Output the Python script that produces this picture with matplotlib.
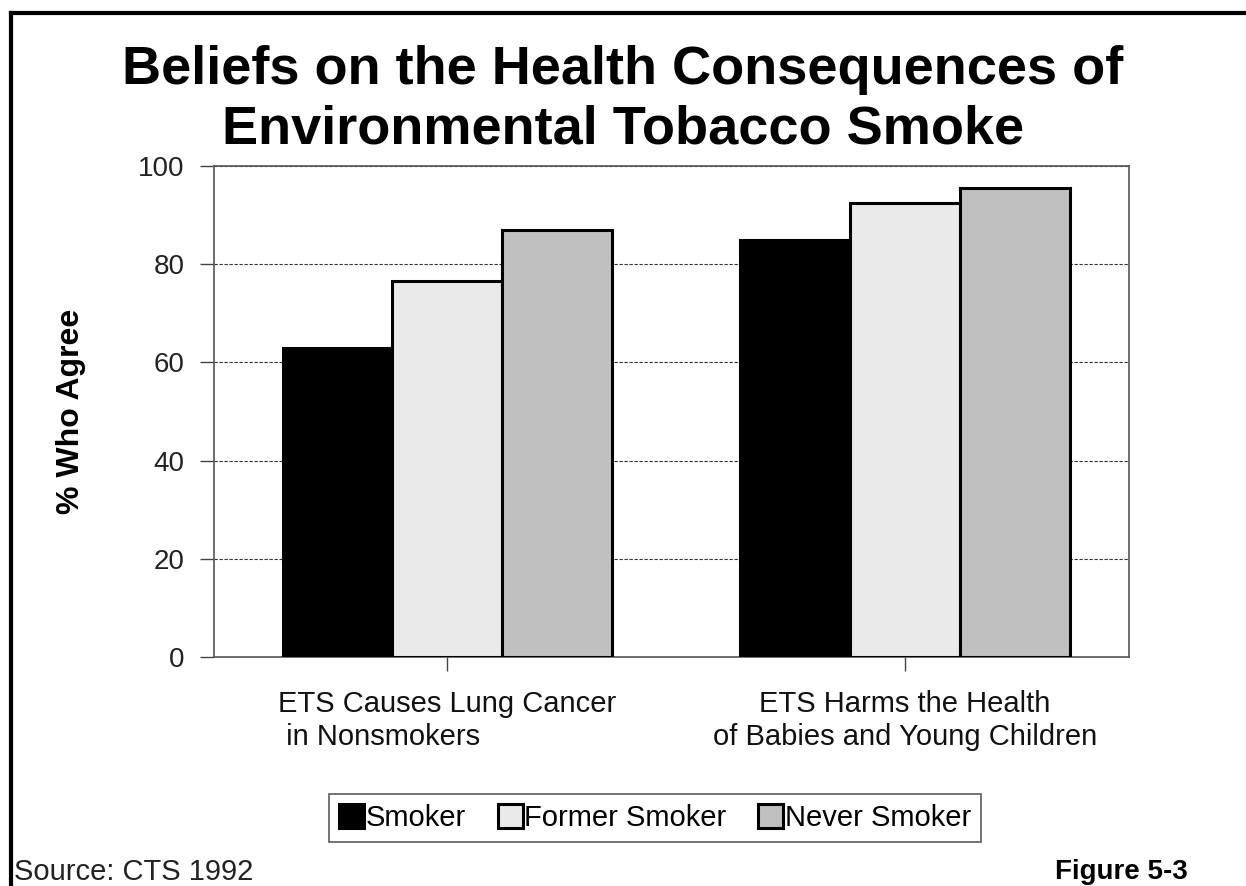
import matplotlib
matplotlib.use("Agg")
import matplotlib.pyplot as plt
from matplotlib.lines import Line2D
from matplotlib.transforms import ScaledTranslation
import numpy as np

plt.rcParams['font.family'] = ['Liberation Sans', 'DejaVu Sans']

# Survey results (% who agree)
categories = ["ETS Causes Lung Cancer\n in Nonsmokers",
              "ETS Harms the Health\nof Babies and Young Children"]
series_names = ["Smoker", "Former Smoker", "Never Smoker"]
smoker = [63, 85]
former_smoker = [76.5, 92.5]
never_smoker = [87, 95.5]
series_values = [smoker, former_smoker, never_smoker]
series_colors = ["#000000", "#eaeaea", "#c0c0c0"]
y_ticks = [0, 20, 40, 60, 80, 100]

W, H = 1246, 886
fig = plt.figure(figsize=(W / 100, H / 100), dpi=100)
ax = fig.add_axes([214 / W, 1 - 657 / H, (1129 - 214) / W, (657 - 166) / H])

x = np.arange(len(categories))
bar_w = 0.24
offsets = [-bar_w, 0, bar_w]
handles = []
for name, vals, col, off in zip(series_names, series_values, series_colors, offsets):
    b = ax.bar(x + off, vals, width=bar_w, color=col, edgecolor="black",
               linewidth=2.2, label=name, zorder=3)
    handles.append(b)

ax.set_xlim(-0.51, 1.49)
ax.set_ylim(0, 100)
ax.set_yticks(y_ticks)
ax.set_yticklabels([str(t) for t in y_ticks], fontsize=20, color="#222222")
ax.set_xticks(x)
ax.set_xticklabels(categories, fontsize=21, color="#111111")
for lbl, ma in zip(ax.get_xticklabels(), ["left", "center"]):
    lbl.set_multialignment(ma)
ax.get_xticklabels()[1].set_transform(
    ax.get_xticklabels()[1].get_transform() + ScaledTranslation(15 / 100, 0, fig.dpi_scale_trans))

ax.tick_params(axis="y", direction="out", length=10, width=1, color="#444444", pad=11)
ax.tick_params(axis="x", direction="out", length=10, width=1, color="#444444", pad=14)

ax.yaxis.grid(True, linestyle=(0, (3, 1.5)), color="#333333", linewidth=0.8, zorder=0)
ax.set_axisbelow(True)
for side in ["left", "right", "top", "bottom"]:
    ax.spines[side].set_color("#555555")
    ax.spines[side].set_linewidth(1.2)

ax.set_ylabel("% Who Agree", fontsize=23, fontweight="bold", labelpad=38)

fig.text(0.5, 1 - 70 / H, "Beliefs on the Health Consequences of",
         fontsize=39, fontweight="bold", ha="center", va="center")
fig.text(0.5, 1 - 130 / H, "Environmental Tobacco Smoke",
         fontsize=39, fontweight="bold", ha="center", va="center")

leg = fig.legend(handles=handles, loc="center", bbox_to_anchor=(655 / W, 1 - 818 / H),
                 ncol=3, fontsize=21, frameon=True, fancybox=False, shadow=False,
                 handlelength=0.85, handleheight=0.85, handletextpad=0.05,
                 columnspacing=1.1, borderpad=0.35, borderaxespad=0)
leg.get_frame().set_edgecolor("#333333")
leg.get_frame().set_linewidth(1.2)

fig.text(14 / W, 1 - 872 / H, "Source: CTS 1992", fontsize=21, color="#222222",
         ha="left", va="center")
fig.text(1188 / W, 1 - 872 / H, "Figure 5-3", fontsize=20, fontweight="bold",
         ha="right", va="center")

# Page frame along the left and top edges
fx, fy = 11 / W, 1 - 13 / H
fig.add_artist(Line2D([fx, fx], [0, fy], color="black", linewidth=3, transform=fig.transFigure,
                      solid_capstyle="projecting"))
fig.add_artist(Line2D([fx, 1], [fy, fy], color="black", linewidth=3, transform=fig.transFigure,
                      solid_capstyle="projecting"))

fig.savefig("out.png", dpi=100, facecolor="white")
